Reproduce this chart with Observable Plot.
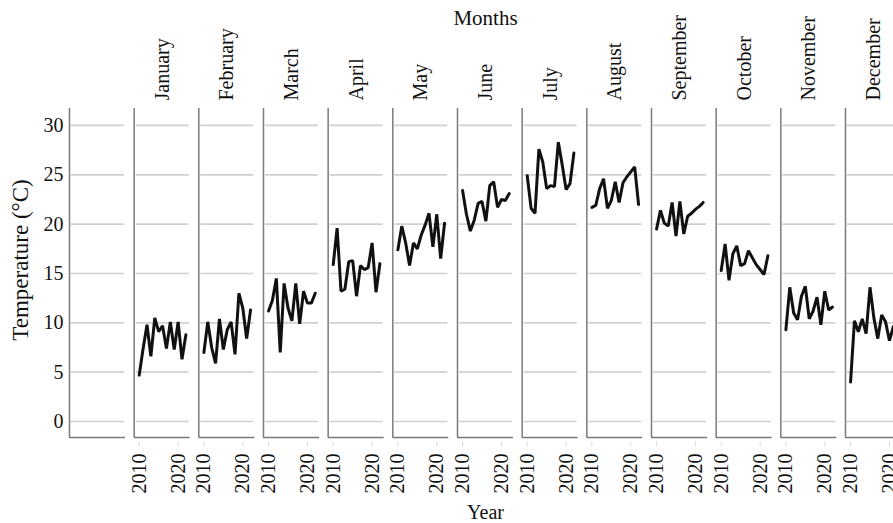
<!DOCTYPE html>
<html>
<head>
<meta charset="utf-8">
<script src="https://cdn.jsdelivr.net/npm/d3@7"></script>
<script src="https://cdn.jsdelivr.net/npm/@observablehq/plot@0.6"></script>
<style>
  html, body { margin: 0; padding: 0; background: #fff; overflow: hidden; }
</style>
</head>
<body>
<div id="chart"></div>
<script>
// ---- data ----
const months = ["January", "February", "March", "April", "May", "June",
  "July", "August", "September", "October", "November", "December"];
const years = [2010, 2011, 2012, 2013, 2014, 2015, 2016, 2017, 2018, 2019, 2020, 2021, 2022];

const jan = [4.7, 7.4, 9.8, 6.6, 10.5, 9.1, 9.7, 7.4, 10.1, 7.3, 10.1, 6.3, 8.8];
const feb = [7.0, 10.1, 7.5, 5.9, 10.4, 7.3, 9.3, 10.1, 6.8, 13.0, 11.5, 8.4, 11.3];
const mar = [11.2, 12.3, 14.5, 7.0, 14.0, 11.5, 10.2, 14.0, 9.9, 13.2, 12.0, 12.0, 13.0];
const apr = [15.9, 19.6, 13.2, 13.4, 16.2, 16.3, 12.7, 15.8, 15.4, 15.6, 18.1, 13.1, 16.0];
const may = [17.4, 19.8, 18.1, 15.8, 18.1, 17.5, 18.9, 19.9, 21.1, 17.7, 21.0, 16.5, 20.1];
const jun = [23.4, 21.0, 19.3, 20.4, 22.1, 22.3, 20.3, 23.9, 24.3, 21.7, 22.5, 22.4, 23.1];
const jul = [24.9, 21.6, 21.1, 27.6, 26.3, 23.6, 23.9, 23.8, 28.3, 26.0, 23.5, 24.1, 27.2];
const aug = [21.7, 21.9, 23.6, 24.6, 21.6, 22.4, 24.3, 22.2, 24.2, 24.8, 25.3, 25.8, 22.0];
const sep = [19.5, 21.4, 20.1, 19.8, 22.2, 18.8, 22.3, 19.0, 20.8, 21.1, 21.5, 21.8, 22.2];
const oct = [15.3, 18.0, 14.3, 17.0, 17.8, 15.8, 16.0, 17.3, 16.6, 15.9, 15.4, 14.9, 16.8];
const nov = [9.3, 13.6, 11.0, 10.3, 12.7, 13.7, 10.4, 11.2, 12.6, 9.8, 13.2, 11.3, 11.6];
const dec = [4.0, 10.2, 9.1, 10.4, 8.9, 13.6, 10.5, 8.4, 10.8, 10.1, 8.2, 9.6];

const yTicks = [0, 5, 10, 15, 20, 25, 30];
const xTicks = [2010, 2020];
const blankPanel = "blank";
const xDomain = [2008.7, 2023.1];
const yDomain = [-1.62, 31.72];

// ---- tables built from the arrays ----
const series = [jan, feb, mar, apr, may, jun, jul, aug, sep, oct, nov, dec];
const rows = [];
months.forEach((m, i) => series[i].forEach((v, j) => rows.push({month: m, year: years[j], temp: v})));
const panels = [blankPanel, ...months];
const gridRows = panels.flatMap(p => yTicks.map(t => ({month: p, t})));
const xTickRows = months.flatMap(m => xTicks.map(y => ({month: m, year: y, label: String(y)})));

const font = "'Liberation Serif', 'Times New Roman', serif";
const tickShape = {draw(context, l) { context.moveTo(0, 0); context.lineTo(0, -l); }};

const chart = Plot.plot({
  width: 910,
  height: 523,
  marginTop: 108,
  marginBottom: 86,
  marginLeft: 69,
  marginRight: 9,
  style: {fontFamily: font, fontSize: "20px", background: "#fff", maxWidth: "none", color: "#111"},
  fx: {domain: panels, paddingInner: 0.134, paddingOuter: 0, round: false},
  x: {domain: xDomain, axis: null},
  y: {domain: yDomain},
  marks: [
    Plot.ruleY(gridRows, {fx: "month", y: "t", stroke: "#d0d0d0", strokeWidth: 1.7, insetLeft: 2, insetRight: 1}),
    Plot.ruleX([xDomain[0]], {stroke: "#7a7a7a", strokeWidth: 1.5}),
    Plot.ruleY([yDomain[0]], {stroke: "#7a7a7a", strokeWidth: 1.5}),
    Plot.vector(xTickRows, {fx: "month", x: "year", frameAnchor: "bottom", length: 4, rotate: 180, anchor: "start", shape: tickShape, dy: 4, stroke: "#dadada", strokeWidth: 1}),
    Plot.line(rows, {fx: "month", x: "year", y: "temp", stroke: "#111", strokeWidth: 3, strokeLinejoin: "miter"}),
    Plot.text(xTickRows, {fx: "month", x: "year", text: "label", frameAnchor: "bottom", rotate: -90, textAnchor: "end", lineAnchor: "middle", dy: 16, fontSize: 20, fill: "#111"}),
    Plot.axisY({ticks: yTicks, tickSize: 0, tickPadding: 6, label: null, fontSize: 20}),
    Plot.axisFx({anchor: "top", tickRotate: -90, tickSize: 0, tickPadding: 8, label: null, fontSize: 20,
      tickFormat: d => d === blankPanel ? "" : d}),
    Plot.text(["Months"], {text: d => d, frameAnchor: "top", dy: -98, facet: "super", fontSize: 21, fill: "#111"}),
    Plot.text(["Year"], {text: d => d, frameAnchor: "bottom", dy: 81, facet: "super", fontSize: 20, fill: "#111"}),
    Plot.text(["Temperature (°C)"], {text: d => d, frameAnchor: "left", textAnchor: "middle", dx: -49, dy: -13, rotate: -90, facet: "super", fontSize: 23, fill: "#111"})
  ]
});
document.getElementById("chart").appendChild(chart);
</script>
</body>
</html>
